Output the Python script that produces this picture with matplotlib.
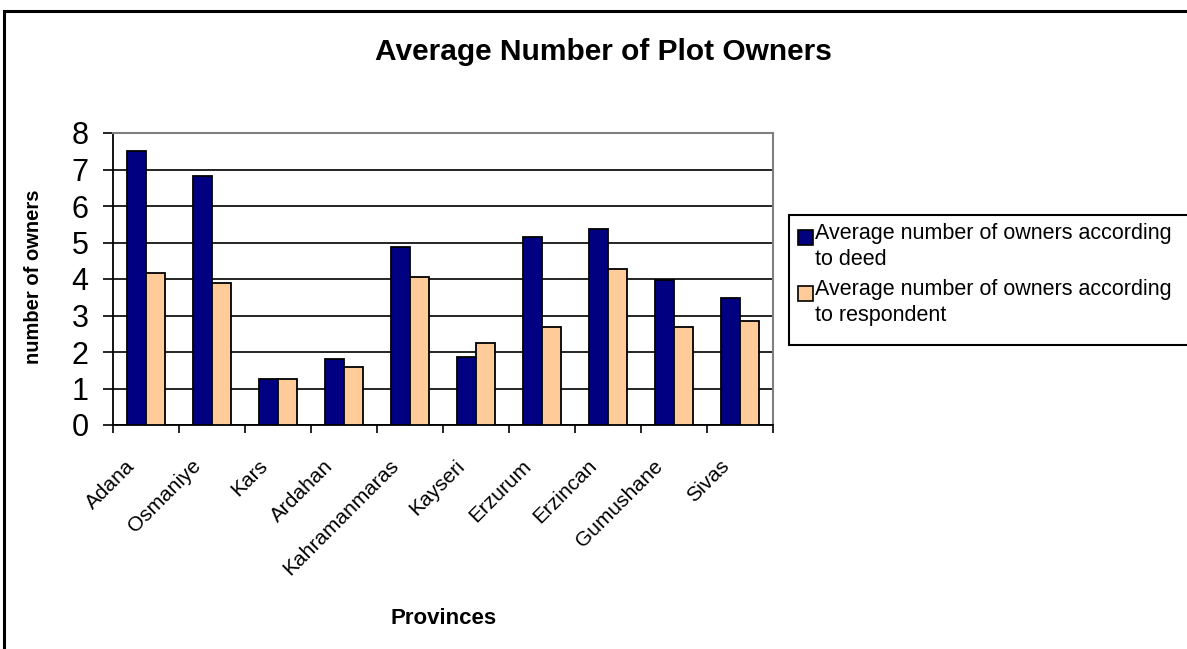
import numpy as np
import matplotlib
matplotlib.use("Agg")
import matplotlib.pyplot as plt
from matplotlib.patches import Rectangle

plt.rcParams['font.family'] = ['Liberation Sans', 'DejaVu Sans']

provinces = ["Adana", "Osmaniye", "Kars", "Ardahan", "Kahramanmaras",
             "Kayseri", "Erzurum", "Erzincan", "Gumushane", "Sivas"]
deed = [7.52, 6.81, 1.27, 1.82, 4.88, 1.87, 5.16, 5.38, 3.97, 3.47]
respondent = [4.17, 3.90, 1.27, 1.59, 4.06, 2.24, 2.68, 4.27, 2.68, 2.84]
series_names = ["Average number of owners according\nto deed",
                "Average number of owners according\nto respondent"]
colors = ["#000080", "#FFCC99"]
yticks = [0, 1, 2, 3, 4, 5, 6, 7, 8]

W, H = 1187, 649
fig = plt.figure(figsize=(W / 100, H / 100), dpi=100)

# outer chart border
fig.patches.append(Rectangle((4 / W, -0.01), 1.1, 1 - 11 / H + 0.01,
                             transform=fig.transFigure, fill=False,
                             edgecolor="black", lw=2.2, clip_on=False))

ax = fig.add_axes([113 / W, 1 - 425 / H, 660 / W, 292 / H])
x = np.arange(len(provinces))
w = 0.29
ax.bar(x - w / 2, deed, w, color=colors[0], edgecolor="black", lw=1.3, zorder=3)
ax.bar(x + w / 2, respondent, w, color=colors[1], edgecolor="black", lw=1.3, zorder=3)

ax.set_xlim(-0.5, len(provinces) - 0.5)
ax.set_ylim(0, 8)
ax.set_yticks(yticks)
ax.set_yticklabels([str(v) for v in yticks], fontsize=22)
ax.tick_params(axis="y", direction="out", length=7.5, width=1.2, pad=10)
ax.yaxis.grid(True, color="black", lw=1.2)
ax.set_axisbelow(True)

ax.set_xticks(x - 0.31)
ax.set_xticklabels(provinces, fontsize=15, rotation=45, ha="right", va="top",
                   rotation_mode="anchor")
ax.tick_params(axis="x", which="major", length=0, pad=22.5)
ax.set_xticks(np.arange(-0.5, len(provinces), 1), minor=True)
ax.tick_params(axis="x", which="minor", direction="out", length=6, width=1.2)

for s in ["top", "right"]:
    ax.spines[s].set_color("#808080")
    ax.spines[s].set_linewidth(1.5)
for s in ["left", "bottom"]:
    ax.spines[s].set_color("black")
    ax.spines[s].set_linewidth(1.3)

ax.set_ylabel("number of owners", fontsize=14.5, fontweight="bold")
ax.yaxis.set_label_coords((43 - 113) / 660, (425 - 277) / 292)
ax.set_xlabel("Provinces", fontsize=16, fontweight="bold", va="center")
ax.xaxis.set_label_coords((444 - 113) / 660, (425 - 618) / 292)

fig.text(603 / W, 1 - 60 / H, "Average Number of Plot Owners", fontsize=21.5,
         fontweight="bold", ha="center", va="baseline")

# legend
fig.patches.append(Rectangle((789 / W, 1 - 345 / H), 0.5, 130 / H,
                             transform=fig.transFigure, facecolor="white",
                             edgecolor="black", lw=1.5, clip_on=False))
sq_tops = [230, 286]
for name, col, top in zip(series_names, colors, sq_tops):
    fig.patches.append(Rectangle((798 / W, 1 - (top + 15) / H), 15 / W, 15 / H,
                                 transform=fig.transFigure, facecolor=col,
                                 edgecolor="black", lw=1.2))
    fig.text(815 / W, 1 - (top - 7) / H, name, fontsize=15.5, ha="left",
             va="top", linespacing=1.3)

fig.savefig("out.png", dpi=100)
